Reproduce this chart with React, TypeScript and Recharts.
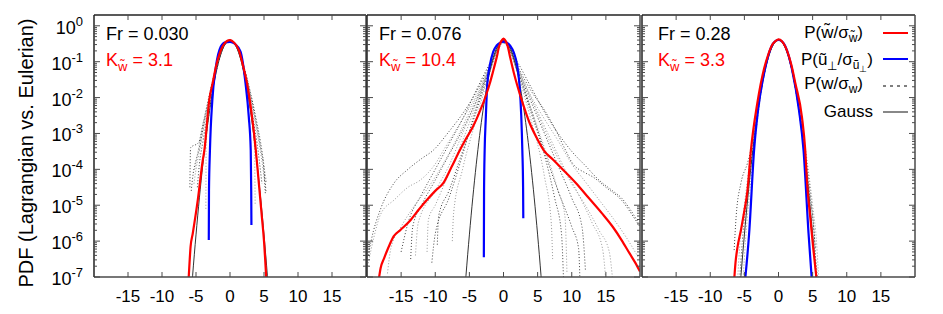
import { LineChart, Line, XAxis, YAxis } from 'recharts'

type Pt = [number, number]

// each point: [w / sigma, log10(PDF)]

// ---- Fr = 0.030
const p1Lag: Pt[] = [
  [-6.1, -7.1], [-5.95, -6.6], [-5.8, -6.16], [-5.47, -5.78], [-4.74, -4.86], [-4.0, -3.74], [-3.77, -3.47],
  [-3.05, -2.07], [-2.5, -1.55], [-2.07, -1.14], [-1.5, -0.76], [-1.1, -0.58], [-0.5, -0.43], [0, -0.4],
  [0.5, -0.45], [1.3, -0.68], [1.9, -1.1], [2.5, -1.6], [3.24, -2.53], [3.8, -3.47], [4.2, -4.3],
  [4.7, -5.35], [5.0, -6.0], [5.35, -7.1],
]
const p1Perp: Pt[] = [
  [-3.12, -5.97], [-3.09, -4.6], [-2.95, -3.47], [-2.6, -2.07], [-2.07, -1.14], [-1.35, -0.58], [-0.7, -0.46],
  [0, -0.45], [0.7, -0.5], [1.55, -0.72], [2.28, -1.6], [2.76, -2.53], [3.05, -3.47], [3.12, -4.6], [3.15, -5.55],
]
const p1Euler: Pt[][] = [
  [[-5.7, -4.6], [-5.4, -4.1], [-5, -3.75], [-4.5, -3.4], [-4, -2.9], [-3, -1.95], [-2, -1.12], [-1, -0.6], [0, -0.44],
    [1, -0.6], [2, -1.12], [3, -1.85], [4, -2.75], [4.5, -3.25], [5, -3.95], [5.3, -4.65]],
  [[-5.3, -4.4], [-5, -4.0], [-4.5, -3.5], [-4, -3.0], [-3, -2.05], [-2, -1.2], [-1, -0.62], [0, -0.41], [1, -0.62],
    [2, -1.2], [3, -2.0], [4, -3.0], [4.6, -3.65], [5.1, -4.35]],
  [[-4.8, -4.5], [-4.5, -3.85], [-4, -3.25], [-3, -2.2], [-2, -1.25], [-1, -0.6], [0, -0.38], [1, -0.6], [2, -1.25],
    [3, -2.2], [4, -3.3], [4.7, -4.4]],
  [[-3.55, -5.1], [-3.5, -3.3], [-3, -2.35], [-2, -1.2], [-1, -0.55], [0, -0.4], [1, -0.55], [2, -1.2], [3, -2.35],
    [3.6, -3.4], [3.7, -5.0]],
  [[-5.9, -4.5], [-5.8, -3.4], [-4.6, -3.25], [-4, -2.75], [-3, -1.9], [-2, -1.1], [-1, -0.6], [0, -0.43], [1, -0.6],
    [2, -1.1], [3, -1.9], [4, -2.85], [4.5, -3.4], [5, -4.05], [5.2, -4.7]],
  [[-5.2, -4.0], [-4.8, -3.6], [-4, -2.8], [-3, -1.95], [-2, -1.15], [-1, -0.58], [0, -0.42], [1, -0.6], [2, -1.15],
    [3, -2.0], [4, -2.9], [4.9, -3.8], [5.4, -4.4]],
]

// ---- Fr = 0.076
const p2Lag: Pt[] = [
  [-18.3, -7.1], [-18.0, -6.75], [-17.5, -6.48], [-16.8, -6.15], [-16.1, -5.87], [-15.1, -5.69], [-13.6, -5.41],
  [-12.4, -5.12], [-11.2, -4.85], [-10.0, -4.6], [-8.8, -4.38], [-7.6, -3.93], [-6.4, -3.47], [-5.5, -3.15],
  [-4.5, -2.82], [-3.5, -2.4], [-2.5, -1.9], [-2.0, -1.6], [-1.5, -1.25], [-1.0, -0.88], [-0.6, -0.55],
  [-0.3, -0.42], [0, -0.36], [0.3, -0.42], [0.6, -0.56], [1.0, -0.9], [1.5, -1.3], [2.0, -1.65], [2.8, -2.15],
  [3.77, -2.68], [4.8, -3.1], [5.9, -3.47], [7.2, -3.72], [8.4, -3.95], [10.6, -4.38], [12.5, -4.8],
  [14.4, -5.22], [16.0, -5.6], [17.3, -5.97], [18.5, -6.35], [19.3, -6.6], [20, -6.85],
]
const p2Perp: Pt[] = [
  [-2.88, -6.45], [-2.85, -4.6], [-2.76, -3.47], [-2.6, -2.6], [-2.37, -1.6], [-2.0, -1.1], [-1.5, -0.72],
  [-1.0, -0.55], [-0.5, -0.47], [0, -0.44], [0.5, -0.47], [1.0, -0.56], [1.5, -0.74], [2.0, -1.1], [2.32, -1.6],
  [2.6, -2.5], [2.76, -3.47], [2.87, -4.5], [2.9, -5.36],
]
const p2Euler: Pt[][] = [
  [[-19.8, -6.4], [-19.4, -6.0], [-18, -5.1], [-16.1, -4.4], [-14, -4.0], [-12, -3.7], [-10.3, -3.47], [-8, -2.95],
    [-6, -2.45], [-4, -1.85], [-2, -1.1], [-1, -0.72], [0, -0.48], [1, -0.72], [2, -1.1], [4, -1.8], [6, -2.35],
    [7.5, -2.85], [9.1, -3.47], [10, -3.8], [12, -4.1], [13, -4.2], [15, -4.5], [17.3, -4.86], [19.3, -5.4], [20, -5.6]],
  [[-19.9, -6.7], [-19, -5.9], [-18, -5.25], [-16, -4.85], [-14, -4.5], [-12.2, -4.3], [-10, -3.85], [-8.8, -3.47],
    [-6, -2.6], [-4, -1.95], [-2, -1.15], [0, -0.42], [2, -1.15], [4, -1.95], [6, -2.6], [8, -3.2], [10, -3.85],
    [12, -4.35], [14, -4.85], [16, -5.35], [18, -5.9], [19.9, -6.5]],
  [[-13.6, -6.5], [-13.3, -5.6], [-12, -5.0], [-10, -4.3], [-8, -3.6], [-6, -2.9], [-4, -2.1], [-2, -1.2], [0, -0.4],
    [2, -1.2], [4, -2.1], [6, -3.0], [8, -3.9], [10, -4.8], [11.5, -5.6], [12, -6.8]],
  [[-11.2, -6.3], [-11, -5.4], [-10, -5.0], [-8, -4.1], [-6, -3.2], [-4, -2.2], [-2, -1.2], [0, -0.38], [2, -1.2],
    [4, -2.3], [6, -3.4], [8, -4.6], [9, -5.3], [9.3, -6.9]],
  [[-9.7, -6.1], [-9.5, -5.3], [-8, -4.6], [-6, -3.5], [-4, -2.4], [-2, -1.25], [0, -0.37], [2, -1.25], [4, -2.4],
    [6, -3.6], [7.5, -4.8], [8.5, -5.8], [8.8, -7.1]],
  [[-7.5, -6.0], [-7.3, -5.2], [-6, -4.0], [-4, -2.6], [-2, -1.3], [0, -0.35], [2, -1.3], [4, -2.6], [6, -4.2],
    [7, -5.5], [7.2, -6.5]],
  [[-15, -6.3], [-14, -5.5], [-12, -4.7], [-10, -4.0], [-8, -3.3], [-6, -2.6], [-4, -1.8], [-2, -1.05], [0, -0.47],
    [2, -1.0], [4, -1.7], [6, -2.4], [8, -3.0], [10, -3.5], [12, -3.9], [14, -4.3], [16, -4.6], [17.3, -4.8],
    [18.5, -5.1], [19.8, -5.5]],
  [[-12.9, -6.4], [-12.5, -5.5], [-10, -4.6], [-8, -3.9], [-6, -3.0], [-4, -2.1], [-2, -1.15], [0, -0.4], [2, -1.15],
    [4, -2.0], [6, -2.9], [8, -3.7], [10, -4.4], [12, -5.0], [14, -5.7], [15.5, -6.3], [16, -7.1]],
  [[-10.5, -6.6], [-10, -5.8], [-8, -4.8], [-6, -3.6], [-4, -2.3], [-2, -1.2], [0, -0.38], [2, -1.2], [4, -2.3],
    [6, -3.5], [8, -4.6], [10, -5.6], [11, -6.2], [11.2, -7.1]],
  [[-17, -6.9], [-16.5, -6.2], [-15, -5.6], [-13, -5.0], [-11, -4.5], [-9, -3.9], [-7, -3.2], [-5, -2.4], [-3, -1.6],
    [-1.5, -0.9], [0, -0.42], [1.5, -0.9], [3, -1.6], [5, -2.4], [7, -3.2], [9, -4.0], [11, -4.7], [13, -5.5],
    [14.5, -6.2], [15, -7.1]],
]

// ---- Fr = 0.28
const p3Lag: Pt[] = [
  [-6.5, -7.1], [-6.3, -6.6], [-6.0, -6.16], [-5.5, -5.69], [-5.0, -5.15], [-4.55, -4.6], [-4.06, -3.5],
  [-3.1, -2.15], [-2.1, -1.18], [-1.5, -0.8], [-0.92, -0.53], [-0.4, -0.42], [0, -0.38], [0.5, -0.43],
  [1.26, -0.7], [1.9, -1.1], [2.47, -1.6], [3.44, -2.55], [3.92, -3.47], [4.16, -4.3], [4.64, -5.32],
  [5.12, -6.25], [5.6, -7.1],
]
const p3Perp: Pt[] = [
  [-4.9, -7.1], [-4.3, -5.78], [-3.58, -3.47], [-3.0, -2.35], [-2.0, -1.22], [-1.0, -0.56], [-0.5, -0.43],
  [0, -0.39], [0.5, -0.43], [1.0, -0.57], [2.0, -1.23], [3.0, -2.35], [3.67, -3.47], [4.4, -5.78], [4.89, -7.1],
]
const p3Euler: Pt[][] = [
  [[-6.5, -6.25], [-6.2, -5.3], [-5.5, -4.38], [-4.55, -3.83], [-4.06, -3.47], [-3, -2.3], [-2, -1.25], [-1, -0.62],
    [0, -0.4], [1, -0.62], [2, -1.25], [3, -2.3], [4, -3.6], [4.5, -4.4], [5, -5.3], [5.4, -6.2]],
  [[-6, -7.1], [-5.7, -6.2], [-5, -5.0], [-4, -3.5], [-3, -2.2], [-2, -1.22], [-1, -0.6], [0, -0.4], [1, -0.6],
    [2, -1.22], [3, -2.2], [4, -3.5], [5, -5.0], [5.6, -6.1], [5.9, -7.1]],
  [[-5.7, -7.1], [-5.3, -6.0], [-4.5, -4.6], [-3.5, -3.0], [-2.5, -1.75], [-1.5, -0.9], [-0.5, -0.45], [0, -0.4],
    [0.5, -0.45], [1.5, -0.9], [2.5, -1.75], [3.5, -3.0], [4.5, -4.6], [5.3, -6.0], [5.6, -7.1]],
  [[-5.2, -7.1], [-4.8, -5.9], [-4, -4.2], [-3, -2.5], [-2, -1.3], [-1, -0.62], [0, -0.4], [1, -0.62], [2, -1.3],
    [3, -2.4], [4, -3.9], [4.8, -5.4], [5.5, -6.6], [5.8, -7.1]],
]

// reference Gaussian, same in all panels
const gauss: Pt[] = [
  [-5.6, -7.21], [-5.5, -6.966], [-5, -5.827], [-4.5, -4.795], [-4, -3.873], [-3.5, -3.058], [-3, -2.353],
  [-2.5, -1.756], [-2, -1.268], [-1.5, -0.887], [-1, -0.616], [-0.5, -0.453], [0, -0.399], [0.5, -0.453],
  [1, -0.616], [1.5, -0.887], [2, -1.268], [2.5, -1.756], [3, -2.353], [3.5, -3.058], [4, -3.873],
  [4.5, -4.795], [5, -5.827], [5.5, -6.966], [5.6, -7.21],
]

const xTicks = [-15, -10, -5, 0, 5, 10, 15]
const yTicks: number[] = []
for (let e = -7; e <= 0; e++) for (let k = 1; k <= 9; k++) if (k * 10 ** e < 2) yTicks.push(k * 10 ** e)

const font = '"Liberation Sans", Arial, sans-serif'
const frame = '#4a4a4a'

const pts = (s: Pt[]) => s.map(([x, l]) => ({ x, y: 10 ** l }))
const decade = (v: number) => Math.round(Math.log10(v))
const isMajor = (v: number) => Math.abs(Math.log10(v) - decade(v)) < 1e-6

const bottomTick = (p: any) => (
  <g>
    <line x1={p.x} x2={p.x} y1={p.y} y2={p.y - 5} stroke={frame} />
    <text x={p.x} y={p.y + 25} textAnchor="middle" fontSize={17} fontFamily={font} fill="#000">
      {p.payload.value}
    </text>
  </g>
)
const topTick = (p: any) => <line x1={p.x} x2={p.x} y1={p.y} y2={p.y + 5} stroke={frame} />
const rightTick = (p: any) => {
  const len = isMajor(p.payload.value) ? 6 : 3
  return <line x1={p.x} x2={p.x - len} y1={p.y} y2={p.y} stroke={frame} />
}
const leftTick = (labels: boolean) => (p: any) => {
  const v = p.payload.value
  const major = isMajor(v)
  return (
    <g>
      <line x1={p.x} x2={p.x + (major ? 6 : 3)} y1={p.y} y2={p.y} stroke={frame} />
      {labels && major && (
        <text x={p.x - 11} y={p.y + 8} textAnchor="end" fontSize={18} fontFamily={font} fill="#000">
          10
          <tspan dy={-8} fontSize={13}>
            {decade(v)}
          </tspan>
        </text>
      )}
    </g>
  )
}

interface PanelProps {
  left: number
  width: number
  yWidth: number
  marginLeft: number
  labels?: boolean
  lag: Pt[]
  perp: Pt[]
  euler: Pt[][]
}

function Panel({ left, width, yWidth, marginLeft, labels = false, lag, perp, euler }: PanelProps) {
  return (
    <div style={{ position: 'absolute', left, top: 0 }}>
      <LineChart width={width} height={314} margin={{ top: 14, right: 1, bottom: 0, left: marginLeft }}>
        <XAxis
          xAxisId="b"
          type="number"
          dataKey="x"
          domain={[-20, 20]}
          ticks={xTicks}
          interval={0}
          allowDataOverflow
          height={37}
          tickLine={false}
          tickSize={0}
          tickMargin={0}
          axisLine={{ stroke: frame, strokeWidth: 1.5 }}
          tick={bottomTick}
        />
        <XAxis
          xAxisId="t"
          orientation="top"
          type="number"
          dataKey="x"
          domain={[-20, 20]}
          ticks={xTicks}
          interval={0}
          allowDataOverflow
          height={1}
          tickLine={false}
          tickSize={0}
          tickMargin={0}
          axisLine={{ stroke: '#222', strokeWidth: 1.5 }}
          tick={topTick}
        />
        <YAxis
          yAxisId="l"
          scale="log"
          domain={[1e-7, 2]}
          ticks={yTicks}
          interval={0}
          allowDataOverflow
          width={yWidth}
          tickLine={false}
          tickSize={0}
          tickMargin={0}
          axisLine={{ stroke: '#222', strokeWidth: 1.5 }}
          tick={leftTick(labels)}
        />
        <YAxis
          yAxisId="r"
          orientation="right"
          scale="log"
          domain={[1e-7, 2]}
          ticks={yTicks}
          interval={0}
          allowDataOverflow
          width={1}
          tickLine={false}
          tickSize={0}
          tickMargin={0}
          axisLine={{ stroke: frame, strokeWidth: 1.5 }}
          tick={rightTick}
        />
        {euler.map((s, i) => (
          <Line
            key={i}
            xAxisId="b"
            yAxisId="l"
            data={pts(s)}
            dataKey="y"
            type="monotone"
            stroke={i % 2 ? '#999' : '#444'}
            strokeWidth={1}
            strokeDasharray="1 2"
            dot={false}
            isAnimationActive={false}
          />
        ))}
        <Line xAxisId="b" yAxisId="l" data={pts(gauss)} dataKey="y" type="monotone" stroke="#333" strokeWidth={1} dot={false} isAnimationActive={false} />
        <Line xAxisId="b" yAxisId="l" data={pts(perp)} dataKey="y" type="monotone" stroke="#0000ff" strokeWidth={2.2} dot={false} isAnimationActive={false} />
        <Line xAxisId="b" yAxisId="l" data={pts(lag)} dataKey="y" type="monotone" stroke="#ff0000" strokeWidth={2.2} dot={false} isAnimationActive={false} />
      </LineChart>
    </div>
  )
}

function Kurt({ x, value }: { x: number; value: string }) {
  return (
    <text x={x} y={66} fill="#ff0000" fontSize={18}>
      K
      <tspan dy={5} fontSize={13}>
        w&#x303;
      </tspan>
      <tspan dy={-5}> = {value}</tspan>
    </text>
  )
}

export default function App() {
  return (
    <div style={{ position: 'absolute', left: 0, top: 0, width: 943, height: 314, background: '#fff' }}>
      <Panel left={0} width={368} yWidth={94} marginLeft={0} labels lag={p1Lag} perp={p1Perp} euler={p1Euler} />
      <Panel left={365} width={277} yWidth={1} marginLeft={1} lag={p2Lag} perp={p2Perp} euler={p2Euler} />
      <Panel left={640} width={277} yWidth={1} marginLeft={1} lag={p3Lag} perp={p3Perp} euler={p3Euler} />
      <svg
        width={943}
        height={314}
        style={{ position: 'absolute', left: 0, top: 0, pointerEvents: 'none' }}
        fontFamily={font}
      >
        <text transform="translate(33,153) rotate(-90)" textAnchor="middle" fontSize={20} fill="#000">
          PDF (Lagrangian vs. Eulerian)
        </text>
        <text x={106} y={40} fontSize={18} fill="#000">Fr = 0.030</text>
        <Kurt x={106} value="3.1" />
        <text x={379} y={40} fontSize={18} fill="#000">Fr = 0.076</text>
        <Kurt x={379} value="10.4" />
        <text x={658} y={40} fontSize={18} fill="#000">Fr = 0.28</text>
        <Kurt x={658} value="3.3" />

        <g fontSize={17} fill="#000">
          <text x={863} y={38} textAnchor="end">
            P(w&#x303;/σ
            <tspan dy={4} fontSize={12}>w&#x303;</tspan>
            <tspan dy={-4}>)</tspan>
          </text>
          <text x={873} y={65} textAnchor="end">
            P(u&#x303;
            <tspan dy={5} fontSize={12}>⊥</tspan>
            <tspan dy={-5}>/σ</tspan>
            <tspan dy={4} fontSize={12}>u&#x303;</tspan>
            <tspan dy={3} fontSize={9}>⊥</tspan>
            <tspan dy={-7}>)</tspan>
          </text>
          <text x={863} y={89} textAnchor="end">
            P(w/σ
            <tspan dy={4} fontSize={12}>w</tspan>
            <tspan dy={-4}>)</tspan>
          </text>
          <text x={873} y={117} textAnchor="end">Gauss</text>
        </g>
        <line x1={883} x2={908} y1={33} y2={33} stroke="#ff0000" strokeWidth={2} />
        <line x1={883} x2={908} y1={59} y2={59} stroke="#0000ff" strokeWidth={2} />
        <line x1={883} x2={908} y1={86} y2={86} stroke="#000" strokeWidth={1.2} strokeDasharray="3 4" />
        <line x1={883} x2={908} y1={112} y2={112} stroke="#888" strokeWidth={2} />
      </svg>
    </div>
  )
}
